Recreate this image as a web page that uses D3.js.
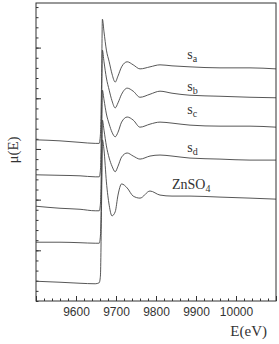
<!DOCTYPE html>
<meta charset="utf-8">
<style>
    body { margin: 0; background: #fff; }
    .axis path { display: none; }
    .axis line { stroke: #333; }
    .axis text { font-family: "Liberation Sans", Arial, sans-serif; font-size: 12px; fill: #333; }
    .spec { fill: none; stroke: #444; stroke-width: 0.9px; }
    .lbl { font-family: "Liberation Serif", "DejaVu Serif", serif; fill: #333; }
</style>
<svg width="279" height="344"></svg>
<script src="https://d3js.org/d3.v7.min.js"></script>
<script>

    // photon energy (eV) at the sampled points, shared by all spectra
    var energy = [9500, 9560, 9610, 9648, 9658, 9661, 9664, 9666, 9670, 9676, 9683, 9690, 9698,
                  9705, 9714, 9728, 9743, 9760, 9785, 9810, 9840, 9885, 9960, 10035, 10100];

    // mu(E), stacked with vertical offsets as in the figure
    var muSa    = [3.18, 3.16, 3.13, 3.11, 3.11, 3.28, 4.36, 5.56, 5.31, 4.95, 4.72, 4.48, 4.32,
                   4.44, 4.62, 4.72, 4.66, 4.58, 4.62, 4.66, 4.64, 4.62, 4.60, 4.60, 4.58];
    var muSb    = [2.49, 2.48, 2.47, 2.45, 2.45, 2.58, 3.77, 4.95, 4.72, 4.40, 4.16, 3.95, 3.81,
                   3.91, 4.08, 4.20, 4.14, 4.02, 4.08, 4.14, 4.10, 4.06, 4.04, 4.02, 4.01];
    var muSc    = [1.87, 1.83, 1.81, 1.78, 1.78, 1.91, 2.98, 4.16, 3.97, 3.69, 3.49, 3.33, 3.24,
                   3.33, 3.53, 3.63, 3.57, 3.43, 3.49, 3.53, 3.51, 3.47, 3.45, 3.45, 3.43];
    var muSd    = [1.16, 1.16, 1.15, 1.14, 1.14, 1.28, 2.39, 3.57, 3.37, 3.06, 2.82, 2.66, 2.55,
                   2.66, 2.84, 2.92, 2.86, 2.80, 2.86, 2.88, 2.86, 2.82, 2.80, 2.78, 2.78];
    var muZnSO4 = [0.39, 0.37, 0.35, 0.34, 0.36, 0.49, 1.99, 3.18, 2.98, 2.35, 1.89, 1.68, 1.76,
                   2.09, 2.31, 2.23, 2.07, 2.03, 2.17, 2.09, 2.07, 2.07, 2.05, 2.03, 2.01];

    var xTickLabels = [9600, 9700, 9800, 9900, 10000];

    // curve labels: name, subscript, energy and mu where the label sits
    var labelNames = ["s", "s", "s", "s", "ZnSO"];
    var labelSubs  = ["a", "b", "c", "d", "4"];
    var labelE     = [9878, 9878, 9878, 9878, 9840];
    var labelMu    = [4.77, 4.15, 3.68, 2.94, 2.21];

    var spectra = [muSa, muSb, muSc, muSd, muZnSO4];

    var svg = d3.select("svg"),
        margin = {top: 3, right: 3, bottom: 43, left: 36},
        width = svg.attr("width") - margin.left - margin.right,
        height = svg.attr("height") - margin.top - margin.bottom,
        g = svg.append("g").attr("transform", "translate(" + margin.left + "," + margin.top + ")");

    var x = d3.scaleLinear().domain([9500, 10100]).range([0, width]),
        y = d3.scaleLinear().domain([0, 5.88]).range([height, 0]);

    var line = d3.line()
        .curve(d3.curveMonotoneX)
        .x(function(d, i) { return x(energy[i]); })
        .y(function(d) { return y(d); });

    // minor ticks
    g.append("g")
        .attr("class", "axis")
        .attr("transform", "translate(0," + height + ")")
        .call(d3.axisBottom(x).tickValues(d3.range(9500, 10101, 20)).tickSize(-2.5).tickFormat(""));
    g.append("g")
        .attr("class", "axis")
        .call(d3.axisLeft(y).tickValues(d3.range(0, 5.9, 0.2)).tickSize(-2.5).tickFormat(""));

    // major ticks
    g.append("g")
        .attr("class", "axis")
        .attr("transform", "translate(0," + height + ")")
        .call(d3.axisBottom(x)
            .tickValues(d3.range(9500, 10101, 100))
            .tickSize(-5)
            .tickPadding(6)
            .tickFormat(function(d) { return xTickLabels.indexOf(d) >= 0 ? d : ""; }));
    g.append("g")
        .attr("class", "axis")
        .call(d3.axisLeft(y).tickValues([1, 2, 3, 4, 5]).tickSize(-5).tickFormat(""));

    // spectra
    g.selectAll(".spec")
        .data(spectra)
        .enter().append("path")
        .attr("class", "spec")
        .attr("d", line);

    // frame
    g.append("rect")
        .attr("width", width)
        .attr("height", height)
        .attr("fill", "none")
        .attr("stroke", "#333")
        .attr("stroke-width", 1);

    // curve names
    var lbl = g.selectAll(".curve-lbl")
        .data(labelNames)
        .enter().append("text")
        .attr("class", "lbl")
        .attr("x", function(d, i) { return x(labelE[i]); })
        .attr("y", function(d, i) { return y(labelMu[i]); })
        .style("font-size", "14px");
    lbl.append("tspan").text(function(d) { return d; });
    lbl.append("tspan")
        .attr("dy", 3)
        .style("font-size", "10px")
        .text(function(d, i) { return labelSubs[i]; });

    // axis titles
    svg.append("text")
        .attr("class", "lbl")
        .attr("text-anchor", "end")
        .attr("x", 267)
        .attr("y", 336)
        .style("font-size", "15px")
        .text("E(eV)");

    svg.append("text")
        .attr("class", "lbl")
        .attr("text-anchor", "middle")
        .attr("transform", "translate(18,150) rotate(-90)")
        .style("font-size", "15px")
        .text("μ(E)");

</script>
